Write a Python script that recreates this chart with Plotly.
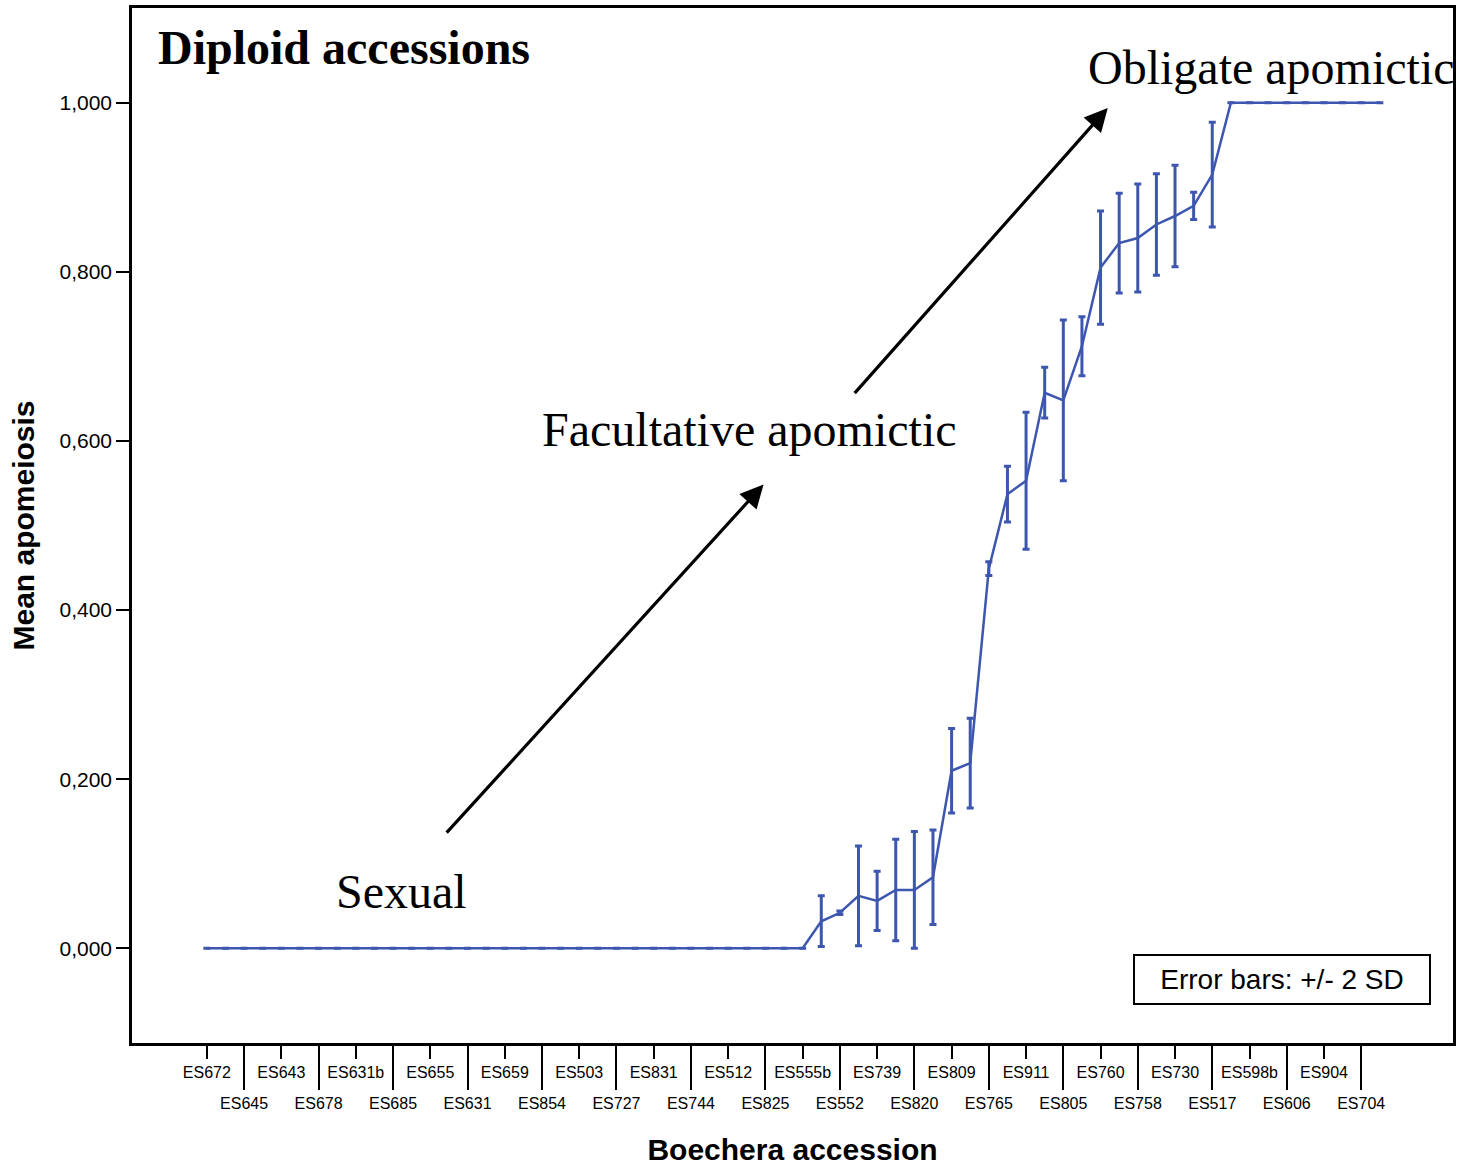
import plotly.graph_objects as go

# ---------------- data ----------------
# 64 accessions ordered by mean apomeiosis; every other one is labelled on the axis
mean_apomeiosis = [0.0] * 33 + [
    0.032, 0.042, 0.062, 0.056, 0.069, 0.069, 0.084, 0.210, 0.219,
    0.449, 0.537, 0.553, 0.657, 0.648, 0.712, 0.805, 0.834, 0.840,
    0.856, 0.866, 0.878, 0.915,
] + [1.0] * 9

two_sd = [0.0] * 33 + [
    0.030, 0.002, 0.059, 0.035, 0.060, 0.069, 0.056, 0.050, 0.053,
    0.008, 0.033, 0.081, 0.030, 0.095, 0.035, 0.067, 0.059, 0.064,
    0.060, 0.060, 0.016, 0.062,
] + [0.0] * 9

tick_labels = [
    "ES672", "ES645", "ES643", "ES678", "ES631b", "ES685", "ES655", "ES631",
    "ES659", "ES854", "ES503", "ES727", "ES831", "ES744", "ES512", "ES825",
    "ES555b", "ES552", "ES739", "ES820", "ES809", "ES765", "ES911", "ES805",
    "ES760", "ES758", "ES730", "ES517", "ES598b", "ES606", "ES904", "ES704",
]

y_tick_vals = [0.0, 0.2, 0.4, 0.6, 0.8, 1.0]
y_tick_text = ["0,000", "0,200", "0,400", "0,600", "0,800", "1,000"]

# ---------------- figure ----------------
x_idx = list(range(len(mean_apomeiosis)))
label_pos = [2 * i for i in range(len(tick_labels))]
top_pos = label_pos[0::2]
top_txt = tick_labels[0::2]
bot_pos = label_pos[1::2]
bot_txt = tick_labels[1::2]

BLUE = "#3D56AF"
SANS = "Liberation Sans, Arial, sans-serif"
SERIF = "Liberation Serif, Times New Roman, serif"

fig = go.Figure()
fig.add_trace(go.Scatter(
    x=x_idx, y=mean_apomeiosis, mode="lines",
    line=dict(color=BLUE, width=2.5),
    error_y=dict(type="data", array=two_sd, visible=True,
                 color=BLUE, thickness=3, width=3.5),
    showlegend=False, hoverinfo="skip",
))
# invisible trace carrying the second (long-tick) x axis
fig.add_trace(go.Scatter(
    x=x_idx, y=mean_apomeiosis, xaxis="x2", mode="lines",
    line=dict(width=0, color="rgba(0,0,0,0)"),
    showlegend=False, hoverinfo="skip",
))

xr = [-4.02, 66.93]
fig.update_layout(
    width=1458, height=1166,
    margin=dict(l=132, r=2, t=8, b=122),
    paper_bgcolor="white", plot_bgcolor="white",
    xaxis=dict(
        range=xr, tickmode="array", tickvals=top_pos, ticktext=top_txt,
        ticks="outside", ticklen=13, tickwidth=2, tickcolor="black",
        showline=True, linecolor="black", linewidth=2.5, mirror=True,
        showgrid=False, zeroline=False,
        tickfont=dict(family=SANS, size=16, color="black"),
        title=dict(text="<b>Boechera accession</b>",
                   font=dict(family=SANS, size=30, color="black"), standoff=62),
    ),
    xaxis2=dict(
        range=xr, overlaying="x", anchor="y", side="bottom",
        tickmode="array", tickvals=bot_pos, ticktext=bot_txt,
        ticks="outside", ticklen=46, tickwidth=2, tickcolor="black",
        showline=False, showgrid=False, zeroline=False,
        tickfont=dict(family=SANS, size=16, color="black"),
    ),
    yaxis=dict(
        range=[-0.112, 1.112], tickmode="array",
        tickvals=y_tick_vals, ticktext=y_tick_text,
        ticks="outside", ticklen=13, tickwidth=2, tickcolor="black",
        showline=True, linecolor="black", linewidth=2.5, mirror=True,
        showgrid=False, zeroline=False,
        tickfont=dict(family=SANS, size=21, color="black"),
        title=dict(text="<b>Mean apomeiosis</b>",
                   font=dict(family=SANS, size=30, color="black"), standoff=16),
    ),
    showlegend=False,
)

def px2paper(px, py):
    return (px - 132) / 1324.0, (1044 - py) / 1036.0

texts = [
    ("<b>Diploid accessions</b>", 156, 48, 48),
    ("Obligate apomictic", 1088, 68, 48),
    ("Facultative apomictic", 541, 430, 48),
    ("Sexual", 334, 892, 48),
]
for t, px, py, sz in texts:
    xp, yp = px2paper(px, py)
    fig.add_annotation(text=t, xref="paper", yref="paper", x=xp, y=yp,
                       xanchor="left", yanchor="middle", showarrow=False,
                       font=dict(family=SERIF, size=sz, color="black"))

# arrows (positions in plot-area fractions)
arrows = [((446, 835), (765, 485)), ((855, 395), (1110, 108))]
for (tx, ty), (hx, hy) in arrows:
    hxp, hyp = px2paper(hx, hy)
    txp, typ = px2paper(tx, ty)
    fig.add_annotation(text="", xref="x domain", yref="y domain", x=hxp, y=hyp,
                       axref="x domain", ayref="y domain", ax=txp, ay=typ,
                       showarrow=True, arrowhead=2, arrowsize=1.45,
                       arrowwidth=3.2, arrowcolor="black")

xp, yp = px2paper(1285, 980)
fig.add_annotation(text="Error bars: +/- 2 SD", xref="paper", yref="paper",
                   x=xp, y=yp, xanchor="center", yanchor="middle",
                   showarrow=False, width=292, height=45,
                   bordercolor="black", borderwidth=2, borderpad=1,
                   bgcolor="white",
                   font=dict(family=SANS, size=28, color="black"))

fig.write_html("out.html",
               config={"displayModeBar": False},
               post_script="document.body.style.margin='0px';")
